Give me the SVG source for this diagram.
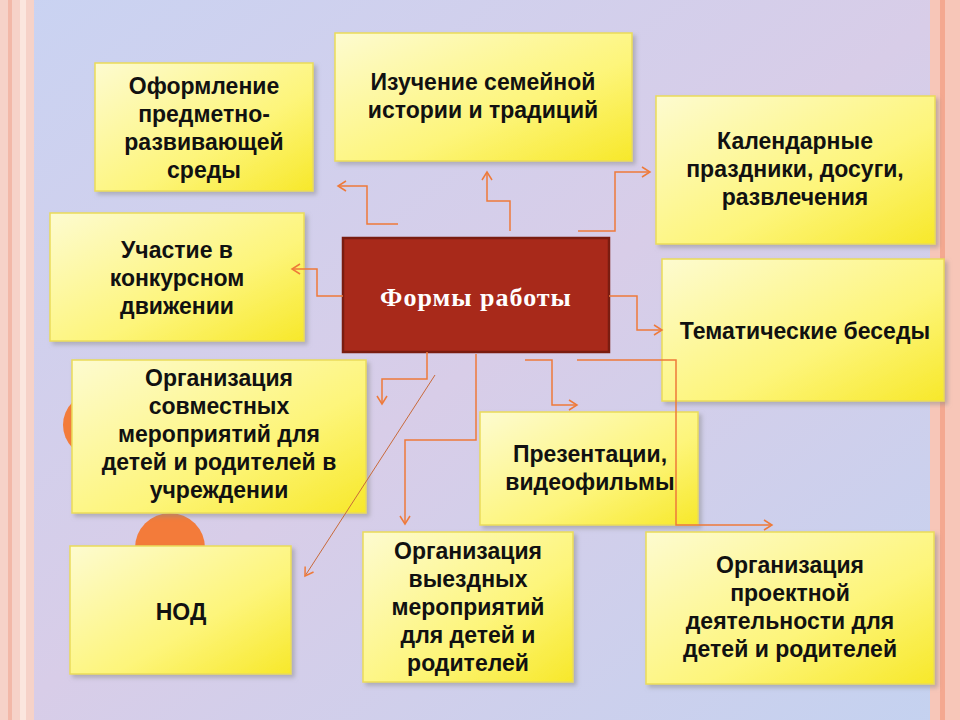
<svg xmlns="http://www.w3.org/2000/svg" width="960" height="720" viewBox="0 0 960 720">
<defs>
<linearGradient id="yg" x1="0" y1="0" x2="1" y2="1"><stop offset="0" stop-color="#fdfbd0"/><stop offset="0.6" stop-color="#fdf57a"/><stop offset="1" stop-color="#f7e82a"/></linearGradient>
<linearGradient id="bg" x1="0" y1="0" x2="1" y2="1"><stop offset="0" stop-color="#c9d3f2"/><stop offset="0.5" stop-color="#d8cde8"/><stop offset="1" stop-color="#c4d2f0"/></linearGradient>
<filter id="sh" x="-10%" y="-10%" width="130%" height="130%"><feDropShadow dx="3" dy="3" stdDeviation="2" flood-color="#888" flood-opacity="0.5"/></filter>
<marker id="ar" markerWidth="12" markerHeight="12" refX="10" refY="6" orient="auto" markerUnits="userSpaceOnUse"><path d="M2,1 L10,6 L2,11" fill="none" stroke="#ee7a3a" stroke-width="1.5"/></marker>
</defs>
<style>
.b{fill:url(#yg);stroke:#eadb5a;stroke-width:1.5;filter:url(#sh)}
.t{font-family:"Liberation Sans",Arial,sans-serif;font-weight:bold;font-size:23px;fill:#111;text-anchor:middle}
.c{fill:none;stroke:#ee7a3a;stroke-width:1.5;marker-end:url(#ar)}
</style>
<rect width="960" height="720" fill="url(#bg)"/>
<rect x="0" y="0" width="34" height="720" fill="#f6d2c8"/>
<rect x="8" y="0" width="4" height="720" fill="#f2b8a8"/>
<rect x="20" y="0" width="6" height="720" fill="#fbe6de"/>
<rect x="930" y="0" width="30" height="720" fill="#f7c6b8"/>
<rect x="940" y="0" width="5" height="720" fill="#f4a890"/>
<circle cx="95" cy="425" r="32" fill="#f37b3a"/>
<circle cx="170" cy="548" r="35" fill="#f37b3a"/>
<g id="center"><rect x="343" y="238" width="266" height="114" fill="#a8291a" stroke="#7a1c10" stroke-width="2.5"/>
<text x="476" y="306" font-family="Liberation Serif,serif" font-weight="bold" font-size="26" letter-spacing="1" fill="#fff" text-anchor="middle">Формы работы</text></g>
<g id="n1"><rect class="b" x="95" y="63" width="218" height="128"/><text class="t" x="204" y="94">Оформление<tspan x="204" dy="28">предметно-</tspan><tspan x="204" dy="28">развивающей</tspan><tspan x="204" dy="28">среды</tspan></text></g>
<g id="n2"><rect class="b" x="335" y="33" width="297" height="128"/><text class="t" x="483" y="90">Изучение семейной<tspan x="483" dy="28">истории и традиций</tspan></text></g>
<g id="n3"><rect class="b" x="656" y="96" width="279" height="148"/><text class="t" x="795" y="149">Календарные<tspan x="795" dy="28">праздники, досуги,</tspan><tspan x="795" dy="28">развлечения</tspan></text></g>
<g id="n4"><rect class="b" x="50" y="213" width="254" height="128"/><text class="t" x="177" y="258">Участие в<tspan x="177" dy="28">конкурсном</tspan><tspan x="177" dy="28">движении</tspan></text></g>
<g id="n5"><rect class="b" x="662" y="259" width="282" height="142"/><text class="t" x="805" y="339">Тематические беседы</text></g>
<g id="n6"><rect class="b" x="72" y="360" width="294" height="153"/><text class="t" x="219" y="386">Организация<tspan x="219" dy="28">совместных</tspan><tspan x="219" dy="28">мероприятий для</tspan><tspan x="219" dy="28">детей и родителей в</tspan><tspan x="219" dy="28">учреждении</tspan></text></g>
<g id="n7"><rect class="b" x="480" y="412" width="218" height="113"/><text class="t" x="590" y="462">Презентации,<tspan x="590" dy="28">видеофильмы</tspan></text></g>
<g id="n8"><rect class="b" x="70" y="546" width="221" height="128"/><text class="t" x="181" y="620">НОД</text></g>
<g id="n9"><rect class="b" x="363" y="532" width="210" height="150"/><text class="t" x="468" y="559">Организация<tspan x="468" dy="28">выездных</tspan><tspan x="468" dy="28">мероприятий</tspan><tspan x="468" dy="28">для детей и</tspan><tspan x="468" dy="28">родителей</tspan></text></g>
<g id="n10"><rect class="b" x="646" y="532" width="288" height="152"/><text class="t" x="790" y="573">Организация<tspan x="790" dy="28">проектной</tspan><tspan x="790" dy="28">деятельности для</tspan><tspan x="790" dy="28">детей и родителей</tspan></text></g>
<g id="connectors">
<path class="c" d="M398,224 H367 V186 H338"/>
<path class="c" d="M510,231 V201 H487 V172"/>
<path class="c" d="M578,231 H615 V172 H650"/>
<path class="c" d="M343,296 H317 V269 H292"/>
<path class="c" d="M609,296 H637 V330 H662"/>
<path class="c" d="M427,352 V379 H382 V404"/>
<path class="c" d="M476,354 V440 H405 V524"/>
<path class="c" d="M525,360 H552 V405 H577"/>
<path class="c" d="M577,360 H676 V525 H772"/>
<path class="c" style="stroke-width:1;stroke:#c86a3a" d="M435,375 L305,576"/>
</g>
</svg>
